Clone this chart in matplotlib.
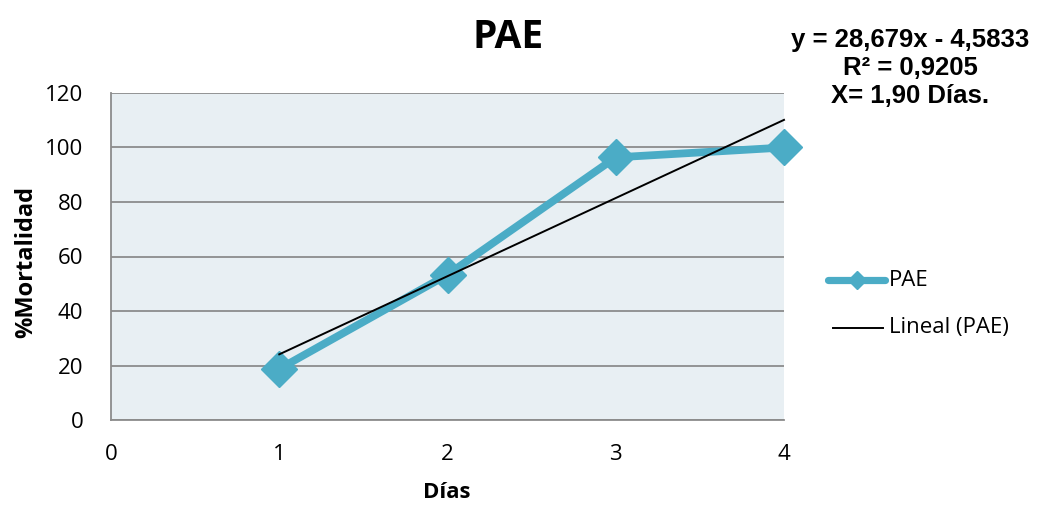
import numpy as np
import matplotlib
matplotlib.use("Agg")
import matplotlib.pyplot as plt
from matplotlib.lines import Line2D

# Days and mortality percentages
dias = [1, 2, 3, 4]
mortalidad = [18.75, 53.33, 96.38, 100.0]
y_ticks = [0, 20, 40, 60, 80, 100, 120]
x_ticks = [0, 1, 2, 3, 4]
ecuacion = ["y = 28,679x - 4,5833", "R² = 0,9205", "X= 1,90 Días."]

serie_color = "#4BACC6"
grid_color = "#8C8C8C"
body_font = "Open Sans"
eq_font = "Liberation Sans"

W, H = 1038, 505
fig = plt.figure(figsize=(W / 100, H / 100), dpi=100)
ax = fig.add_axes([111 / W, 1 - 420 / H, (784 - 111) / W, (420 - 93) / H])
ax.set_facecolor("#E8EFF3")

# Linear trend through the measured points
slope, intercept = np.polyfit(dias, mortalidad, 1)
xs = np.array([dias[0], dias[-1]])
ax.plot(dias, mortalidad, color=serie_color, lw=5.6, marker="D", ms=18,
        mfc=serie_color, mec=serie_color, zorder=3, clip_on=False)
ax.plot(xs, slope * xs + intercept, color="black", lw=1.4, zorder=4,
        clip_on=False)

ax.set_xlim(0, 4)
ax.set_ylim(0, 120)
ax.set_xticks(x_ticks)
ax.set_yticks(y_ticks)
ax.yaxis.grid(True, color=grid_color, lw=1.3)
ax.set_axisbelow(True)
for s in ["top", "right"]:
    ax.spines[s].set_visible(False)
for s in ["left", "bottom"]:
    ax.spines[s].set_color(grid_color)
    ax.spines[s].set_linewidth(1.3)
ax.tick_params(length=0, labelsize=16)
ax.tick_params(axis="y", pad=20)
ax.tick_params(axis="x", pad=17.5)
for lab in ax.get_xticklabels() + ax.get_yticklabels():
    lab.set_fontfamily(body_font)

# Axis titles
fig.text(447 / W, 1 - 498 / H, "Días", ha="center", va="baseline",
         fontsize=16, fontweight="bold", family=body_font)
fig.text(26 / W, 1 - 262 / H, "%Mortalidad", ha="center", va="center",
         rotation=90, fontsize=17, fontweight="bold", family=body_font)

# Chart title and regression summary
fig.text(508 / W, 1 - 48 / H, "PAE", ha="center", va="baseline",
         fontsize=28, fontweight="bold", family=body_font)
for linea, base in zip(ecuacion, [47, 75, 103]):
    fig.text(910 / W, 1 - base / H, linea, ha="center", va="baseline",
             fontsize=18.5, fontweight="bold", family=eq_font)

# Legend
leg_items = [
    (Line2D([828 / W, 885 / W], [1 - 280 / H] * 2, color=serie_color, lw=5.2,
            solid_capstyle="round", transform=fig.transFigure),
     Line2D([856.5 / W], [1 - 280 / H], color=serie_color, marker="D", ms=9,
            lw=0, transform=fig.transFigure),
     "PAE", 280),
    (Line2D([833 / W, 883 / W], [1 - 328 / H] * 2, color="black", lw=1.4,
            transform=fig.transFigure),
     None, "Lineal (PAE)", 328),
]
for linea, marca, texto, yy in leg_items:
    fig.add_artist(linea)
    if marca is not None:
        fig.add_artist(marca)
    fig.text(889 / W, 1 - yy / H, texto, ha="left", va="center",
             fontsize=16, family=body_font)

fig.savefig("out.png", dpi=100)
